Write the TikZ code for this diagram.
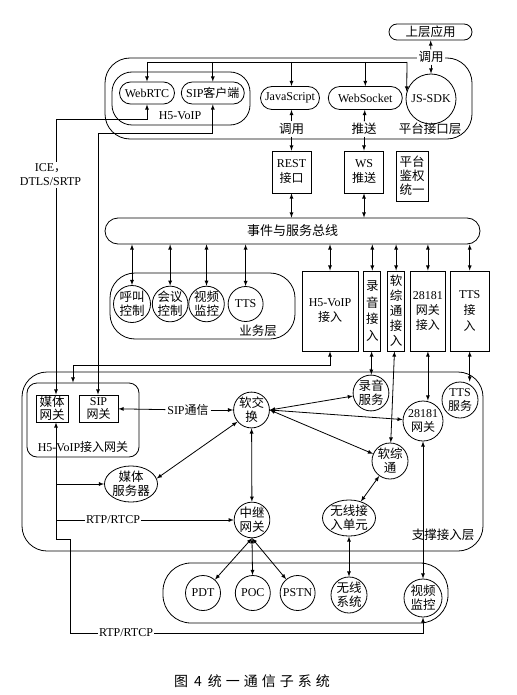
\documentclass[tikz,border=0pt]{standalone}
\usepackage{fontspec}
\setmainfont{Liberation Serif}
\newfontfamily\cjk{Noto Sans CJK SC}
\tikzstyle{layer}=[rectangle,thick,draw=black,rounded corners=25pt]
\tikzstyle{pill}=[rounded rectangle,thick,draw=black,inner sep=0pt]
\tikzstyle{unit}=[rectangle,thick,draw=black,inner sep=0pt,align=center]
\tikzstyle{srv}=[circle,thick,draw=black,inner sep=0pt,align=center,minimum size=35pt]
\tikzstyle{esrv}=[ellipse,thick,draw=black,inner sep=0pt,align=center]
\tikzstyle{tag}=[fill=white,inner sep=1.5pt,align=center]
\tikzstyle{zh}=[font=\fontsize{12.5}{14}\selectfont\cjk]
\usetikzlibrary{arrows,positioning,shapes}

\begin{document}
\begin{tikzpicture}[x=1pt,y=-1pt,thick,node distance=5pt,font=\fontsize{12}{14}\selectfont]
            \useasboundingbox (0,0) rectangle (516,695);

            % PLATFORM INTERFACE PART

            \node[layer,minimum width=367pt,minimum height=81pt] (pil) at (288.5,98.5) {};
            \node[layer,rounded corners=20pt,minimum width=138pt,minimum height=53pt] (h5) at (181,98.5) {};
            \node (h5lbl) at (180,116) {H5-VoIP};
            \node[pill,minimum width=55pt,minimum height=22pt] (webrtc) at (147,93) {WebRTC};
            \node[pill,right=6pt of webrtc,minimum width=63pt,minimum height=22pt] (sipc) {SIP{\cjk 客户端}};
            \node[pill,minimum width=59pt,minimum height=23pt] (js) at (290,98) {JavaScript};
            \node[pill,right=8pt of js,minimum width=74pt,minimum height=23pt] (ws) {WebSocket};
            \node[srv,minimum size=50pt] (jssdk) at (431,99) {JS-SDK};
            \node[pill,zh,minimum width=83pt,minimum height=16pt] (app) at (430.5,32) {上层应用};
            \node[tag,zh] (call0) at (431,57) {调用};
            \node[tag,zh] (call1) at (291.5,129) {调用};
            \node[tag,zh] (push) at (364,129) {推送};
            \node[zh] (pillbl) at (430,129) {平台接口层};

            \node[unit,minimum width=39pt,minimum height=42pt,font=\fontsize{12}{15}\selectfont] (rest) at (291.5,172) {REST\\{\cjk 接口}};
            \node[unit,minimum width=39pt,minimum height=42pt,font=\fontsize{12}{15}\selectfont] (wsp) at (364,172) {WS\\{\cjk 推送}};
            \node[unit,zh,minimum width=32pt,minimum height=50pt] (auth) at (412,176) {平台\\鉴权\\统一};

            \coordinate (jl) at (407,62);
            \draw (webrtc.north |- jl) -- (jl);
            \path[-latex] (webrtc.north |- jl) edge node {} (webrtc.north);
            \path[-latex] (sipc.north |- jl) edge node {} (sipc.north);
            \path[-latex] (call1 |- jl) edge node {} (call1 |- js.north);
            \path[-latex] (ws.north |- jl) edge node {} (ws.north);
            \path[-latex] (jl) edge node {} (jssdk.163);

            \path[-latex] (call0) edge node {} (app);
            \path[-latex] (call0) edge node {} (jssdk);
            \path[-latex] (call1) edge node {} (call1 |- js.south);
            \path[-latex] (call1) edge node {} (rest);
            \path[-latex] (push) edge node {} (ws);
            \path[-latex] (push) edge node {} (wsp);

            % BUS PART

            \node[pill,zh,minimum width=375pt,minimum height=26pt,font=\fontsize{13}{14}\selectfont\cjk] (bus) at (292.5,231) {事件与服务总线};
            \path[latex-latex] (rest) edge node {} (rest |- bus.north);
            \path[latex-latex] (wsp) edge node {} (wsp |- bus.north);

            % SERVICE PART

            \node[layer,minimum width=185pt,minimum height=66pt] (biz) at (202.5,306) {};
            \node[zh] (bizlbl) at (258,331) {业务层};
            \node[srv,zh,minimum size=37pt] (hujiao) at (132,304) {呼叫\\控制};
            \node[srv,zh,right=1pt of hujiao] (huiyi) {会议\\控制};
            \node[srv,zh,right=0pt of huiyi] (shipin) {视频\\监控};
            \node[srv,right=3pt of shipin] (tts) {TTS};

            \path[latex-latex] (hujiao |- bus.south) edge node {} (hujiao);
            \path[latex-latex] (huiyi |- bus.south) edge node {} (huiyi);
            \path[latex-latex] (shipin |- bus.south) edge node {} (shipin);
            \path[latex-latex] (tts |- bus.south) edge node {} (tts);

            % ACCESS PART

            \node[unit,minimum width=56pt,minimum height=80pt,font=\fontsize{12}{15}\selectfont] (h5in) at (330,311) {H5-VoIP\\{\cjk 接入}};
            \node[unit,right=5pt of h5in,minimum width=17pt,minimum height=80pt,font=\fontsize{12.5}{16.5}\selectfont\cjk] (lyin) {录\\音\\接\\入};
            \node[unit,right=6pt of lyin,minimum width=17pt,minimum height=80pt,font=\fontsize{12.5}{15}\selectfont\cjk] (rzin) {软\\综\\通\\接\\入};
            \node[unit,right=5pt of rzin,minimum width=35pt,minimum height=80pt,font=\fontsize{12}{15}\selectfont] (gbin) {28181\\{\cjk 网关}\\{\cjk 接入}};
            \node[unit,right=4pt of gbin,minimum width=39pt,minimum height=80pt,font=\fontsize{12}{16}\selectfont] (ttsin) {TTS\\{\cjk 接}\\{\cjk 入}};

            \path[latex-latex] (h5in |- bus.south) edge node {} (h5in);
            \path[latex-latex] (lyin |- bus.south) edge node {} (lyin);
            \path[latex-latex] (rzin |- bus.south) edge node {} (rzin);
            \path[latex-latex] (gbin |- bus.south) edge node {} (gbin);
            \path[latex-latex] (ttsin |- bus.south) edge node {} (ttsin);

            % SUPPORT PART

            \node[layer,minimum width=461pt,minimum height=179pt] (sup) at (252.5,461.5) {};
            \node[zh] (suplbl) at (443,535) {支撑接入层};
            \node[layer,rounded corners=10pt,minimum width=112pt,minimum height=74pt] (gw) at (83,420) {};
            \node (gwlbl) at (83,447) {H5-VoIP{\cjk 接入网关}};
            \node[unit,minimum width=32pt,minimum height=27pt,font=\fontsize{12.5}{13}\selectfont\cjk] (mgw) at (52,408.5) {媒体\\网关};
            \node[unit,minimum width=39pt,minimum height=27pt,font=\fontsize{12}{13}\selectfont] (sgw) at (98.5,408.5) {SIP\\{\cjk 网关}};
            \node[tag] (sipcomm) at (188,410) {SIP{\cjk 通信}};
            \node[srv,zh,minimum size=34pt] (softsw) at (251.5,410) {软交\\换};
            \node[srv,zh,minimum size=34pt] (rec) at (371,393) {录音\\服务};
            \node[srv,minimum size=36pt] (ttss) at (460,400) {TTS\\{\cjk 服务}};
            \node[srv,minimum size=40pt] (gb) at (423,421) {28181\\{\cjk 网关}};
            \node[srv,zh,minimum size=36pt] (rzt) at (390,461) {软综\\通};
            \node[esrv,zh,minimum width=52pt,minimum height=36pt] (ms) at (131,484) {媒体\\服务器};
            \node[srv,zh,minimum size=34pt] (relay) at (252,520) {中继\\网关};
            \node[esrv,zh,minimum width=51pt,minimum height=35pt] (wau) at (349,518) {无线接\\入单元};

            \path[latex-latex] (lyin) edge node {} (rec);
            \path[latex-latex] (rzin) edge node {} (rzt);
            \path[latex-latex] (gbin.south) edge node {} (gbin.south |- gb.north);
            \path[latex-latex] (ttsin.south) edge node {} (ttsin.south |- ttss.north);

            \path[-latex] (sipcomm) edge node {} (sgw);
            \path[-latex] (sipcomm) edge node {} (softsw);
            \path[latex-latex] (softsw.east) edge node {} (rec);
            \path[latex-latex] (softsw.east) edge node {} (gb);
            \path[latex-latex] (softsw.east) edge node {} (rzt);
            \path[latex-latex] (softsw.220) edge node {} (ms.12);
            \path[latex-latex] (softsw) edge node {} (relay);
            \path[latex-latex] (rzt) edge node {} (wau);

            % TERMINAL PART

            \node[layer,rounded corners=28pt,minimum width=285pt,minimum height=60pt] (bot) at (305.5,593) {};
            \node[srv] (pdt) at (203,593) {PDT};
            \node[srv,right=14pt of pdt] (poc) {POC};
            \node[srv,right=9pt of poc] (pstn) {PSTN};
            \node[srv,zh,minimum size=36pt] (wls) at (349,595) {无线\\系统};
            \node[srv,zh,minimum size=38pt] (vid) at (423,598) {视频\\监控};

            \path[latex-latex] (relay.south) edge node {} (pdt);
            \path[latex-latex] (relay.south) edge node {} (poc);
            \path[latex-latex] (relay.south) edge node {} (pstn);
            \path[latex-latex] (wau) edge node {} (wls);
            \path[latex-latex] (gb) edge node {} (vid);

            % Connections across layers

            \coordinate (ice) at (56,119);
            \coordinate (sipl) at (98,133);
            \coordinate (h5l) at (73,365);
            \coordinate (m1) at (56,539);
            \coordinate (m2) at (70,633);

            \draw[latex-latex] (webrtc.south) |- (ice) -- (ice |- mgw.north);
            \node[tag] (icelbl) at (50.5,175) {ICE{\cjk ，}\\DTLS/SRTP};
            \draw[latex-latex] (sipc.south) |- (sipl) -- (sipl |- sgw.north);
            \draw[latex-latex] (h5in.south) |- (h5l) -- (h5l |- gw.north);

            \draw[latex-latex] (m1 |- mgw.south) -- (m1) -| (m2) -| (vid.south);
            \path[-latex] (m1 |- ms) edge node {} (ms);
            \path[-latex] (m1 |- relay) edge node {} (relay);
            \node[tag] (rtp1) at (113,520) {RTP/RTCP};
            \node[tag] (rtp2) at (126,633) {RTP/RTCP};

            \node[font=\fontsize{14}{16}\selectfont\cjk] (caption) at (252,681) {图\hspace{6pt}4\hspace{6pt}统\hspace{4pt}一\hspace{4pt}通\hspace{4pt}信\hspace{4pt}子\hspace{4pt}系\hspace{4pt}统};

\end{tikzpicture}
\end{document}
